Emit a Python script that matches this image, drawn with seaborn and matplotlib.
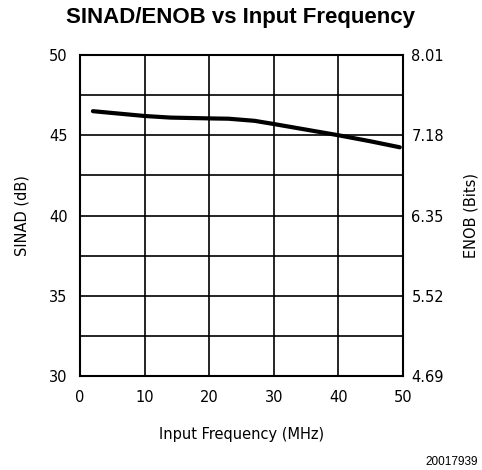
import numpy as np
import pandas as pd
import matplotlib
matplotlib.use("Agg")
import matplotlib.pyplot as plt
import seaborn as sns

# Data
freq_mhz = [2, 6, 10, 14, 20, 23, 27, 30, 35, 40, 45, 49.5]
sinad_db = [46.5, 46.35, 46.2, 46.1, 46.05, 46.03, 45.9, 45.7, 45.35, 45.0, 44.62, 44.25]
x_ticks = [0, 10, 20, 30, 40, 50]
y_ticks = [30, 35, 40, 45, 50]
enob_labels = ["4.69", "5.52", "6.35", "7.18", "8.01"]

sns.set_theme(style="white")
plt.rcParams['font.family'] = ['DejaVu Sans']
plt.rcParams['text.color'] = 'black'

fig = plt.figure(figsize=(4.82, 4.70), dpi=100)
ax = fig.add_axes([80/482, 1-376/470, (403-80)/482, (376-55)/470])

df = pd.DataFrame({"freq": freq_mhz, "sinad": sinad_db})
sns.lineplot(data=df, x="freq", y="sinad", ax=ax, color="black", linewidth=3.0)

ax.set_xlim(0, 50)
ax.set_ylim(30, 50)
ax.set_xticks(x_ticks)
ax.set_yticks(y_ticks)
ax.set_xticklabels([str(v) for v in x_ticks])
ax.set_yticklabels([str(v) for v in y_ticks])
for v in x_ticks[1:-1]:
    ax.axvline(v, color="black", linewidth=1.2, zorder=1)
for v in np.arange(32.5, 50, 2.5):
    ax.axhline(v, color="black", linewidth=1.2, zorder=1)
for s in ax.spines.values():
    s.set_visible(True)
    s.set_color("black")
    s.set_linewidth(1.5)
ax.tick_params(axis="y", length=0, labelsize=10.5, colors="black", pad=9)
ax.tick_params(axis="x", length=0, labelsize=10.5, colors="black", pad=10)
ax.set_xlabel("Input Frequency (MHz)", fontsize=10.5, labelpad=16, color="black")
ax.set_ylabel("SINAD (dB)", fontsize=10.5, labelpad=14, color="black")

ax2 = ax.twinx()
ax2.set_ylim(30, 50)
ax2.set_yticks(y_ticks)
ax2.set_yticklabels(enob_labels)
ax2.tick_params(axis="y", length=0, labelsize=10.5, colors="black", pad=6)
ax2.set_ylabel("ENOB (Bits)", fontsize=10.5, labelpad=14, color="black")
for s in ax2.spines.values():
    s.set_visible(False)

fig.text(0.5, 1-18/470, "SINAD/ENOB vs Input Frequency", ha="center", va="center",
         fontsize=16, fontweight="bold", color="black", family=["Liberation Sans"])
fig.text(478/482, 1-462/470, "20017939", ha="right", va="center",
         fontsize=8.5, color="black", family=["Liberation Sans"])

fig.savefig("out.png", dpi=100)
